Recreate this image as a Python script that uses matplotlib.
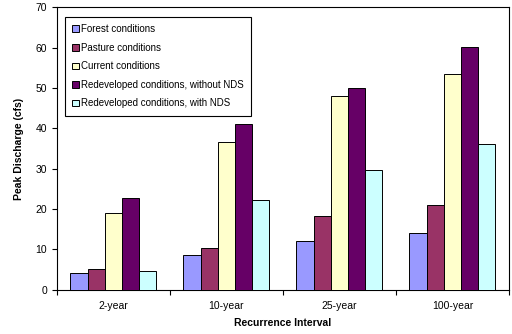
import numpy as np
import matplotlib.pyplot as plt
from matplotlib.ticker import FixedLocator

plt.rcParams['font.family'] = ['Liberation Sans', 'DejaVu Sans']

# peak discharge by recurrence interval
intervals = ["2-year", "10-year", "25-year", "100-year"]
series = ["Forest conditions", "Pasture conditions", "Current conditions",
          "Redeveloped conditions, without NDS", "Redeveloped conditions, with NDS"]
forest = [4.0, 8.5, 12.0, 14.1]
pasture = [5.1, 10.4, 18.2, 21.0]
current = [19.1, 36.7, 47.9, 53.4]
redev_no_nds = [22.7, 41.1, 50.0, 60.1]
redev_nds = [4.6, 22.2, 29.6, 36.2]
colors = ["#9999FF", "#993366", "#FFFFCC", "#660066", "#CCFFFF"]

values = [forest, pasture, current, redev_no_nds, redev_nds]

fig = plt.figure(figsize=(5.12, 3.34), dpi=100)
ax = fig.add_axes([0.111, 0.133, 0.883, 0.845])

x = np.arange(len(intervals))
w = 0.152
for i, (name, vals, c) in enumerate(zip(series, values, colors)):
    ax.bar(x + (i - 2) * w, vals, w, color=c, edgecolor="black",
           linewidth=0.7, label=name, zorder=3)

ax.set_xlim(-0.5, len(intervals) - 0.5)
ax.set_ylim(0, 70)
ax.set_yticks(range(0, 71, 10))
ax.set_xticks(x)
ax.set_xticklabels(intervals)
ax.xaxis.set_minor_locator(FixedLocator(np.arange(-0.5, len(intervals), 1.0)))
ax.tick_params(axis="x", which="major", length=0, labelsize=7.5, pad=8)
ax.tick_params(axis="x", which="minor", length=3.5, width=0.8, direction="out")
ax.tick_params(axis="y", length=3.5, width=0.8, labelsize=7.5, direction="out")
for s in ax.spines.values():
    s.set_linewidth(0.8)

ax.set_ylabel("Peak Discharge (cfs)", fontsize=7.5, fontweight="bold", labelpad=8)
ax.set_xlabel("Recurrence Interval", fontsize=7.5, fontweight="bold", labelpad=5)

leg = ax.legend(loc="upper left", bbox_to_anchor=(0.018, 0.966), fontsize=7,
                handlelength=0.7, handleheight=0.7, handletextpad=0.2,
                labelspacing=0.88, borderpad=0.75, fancybox=False,
                edgecolor="black", framealpha=1, borderaxespad=0)
leg.get_frame().set_linewidth(0.8)

fig.savefig("out.png", dpi=100)
